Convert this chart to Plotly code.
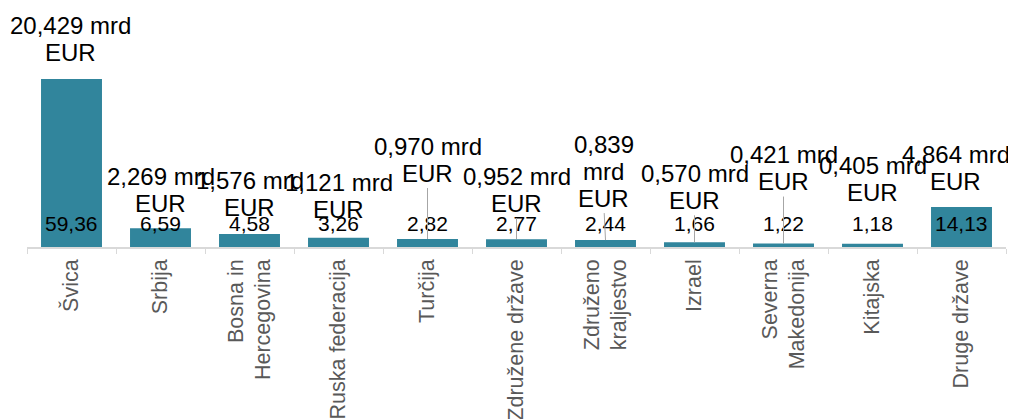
import plotly.graph_objects as go

categories = ["Švica", "Srbija", "Bosna in<br>Hercegovina", "Ruska federacija", "Turčija",
              "Združene države", "Združeno<br>kraljestvo", "Izrael", "Severna<br>Makedonija",
              "Kitajska", "Druge države"]
shares = [59.36, 6.59, 4.58, 3.26, 2.82, 2.77, 2.44, 1.66, 1.22, 1.18, 14.13]
share_labels = ["59,36", "6,59", "4,58", "3,26", "2,82", "2,77", "2,44", "1,66", "1,22", "1,18", "14,13"]
amount_labels = [["20,429 mrd", "EUR"], ["2,269 mrd", "EUR"], ["1,576 mrd", "EUR"], ["1,121 mrd", "EUR"],
                 ["0,970 mrd", "EUR"], ["0,952 mrd", "EUR"], ["0,839", "mrd", "EUR"], ["0,570 mrd", "EUR"],
                 ["0,421 mrd", "EUR"], ["0,405 mrd", "EUR"], ["4,864 mrd", "EUR"]]

# label placement (pixel offsets of the last label line from the bar tops) and leader-line visibility
label_dx = [-1, 0, 0, 0, 0, 0, -2, 0, 0, 0, -6]
label_dy = [-26, -25, -27, -28, -66, -36, -42, -42, -62, -51, -25]
leader = [False, False, False, False, True, True, True, True, True, False, False]
LINE_GAP = 27

BAR = "#31859C"
FONT = "Liberation Sans, Arial, sans-serif"

fig = go.Figure(go.Bar(x=categories, y=shares, marker=dict(color=BAR, line=dict(width=0)),
                       width=0.685, hoverinfo="skip"))

annotations = []
for c, lab in zip(categories, share_labels):
    annotations.append(dict(x=c, y=0, text=lab, showarrow=False, yanchor="middle", yshift=24,
                            font=dict(family=FONT, size=21, color="#000000")))
for c, v, lines, dx, dy, ld in zip(categories, shares, amount_labels, label_dx, label_dy, leader):
    # bottom line carries the leader line
    annotations.append(dict(x=c, y=v, text=lines[-1], showarrow=True, arrowhead=0, arrowwidth=1,
                            arrowcolor="#A6A6A6" if ld else "rgba(0,0,0,0)", ax=dx, ay=dy,
                            font=dict(family=FONT, size=24, color="#000000")))
    for k, t in enumerate(reversed(lines[:-1]), start=1):
        annotations.append(dict(x=c, y=v, text=t, showarrow=False, yanchor="middle", xanchor="center",
                                xshift=dx, yshift=-dy + LINE_GAP * k,
                                font=dict(family=FONT, size=24, color="#000000")))

fig.update_layout(
    width=1016, height=419,
    margin=dict(l=19, r=18, t=2, b=180),
    paper_bgcolor="white", plot_bgcolor="white",
    showlegend=False,
    annotations=annotations,
)
fig.update_xaxes(range=[-0.5, len(categories) - 0.5], autorange=False,
                 showline=True, linecolor="#D9D9D9", linewidth=1.5, ticks="outside",
                 tickson="boundaries", ticklen=5, tickcolor="#D9D9D9", tickangle=-90,
                 tickfont=dict(family=FONT, size=21.5, color="#595959"), showgrid=False,
                 automargin=False, ticklabelstandoff=2)
fig.update_yaxes(range=[0, 83.7], autorange=False, visible=False, showgrid=False,
                 zeroline=False, automargin=False)

fig.write_html("out.html")
